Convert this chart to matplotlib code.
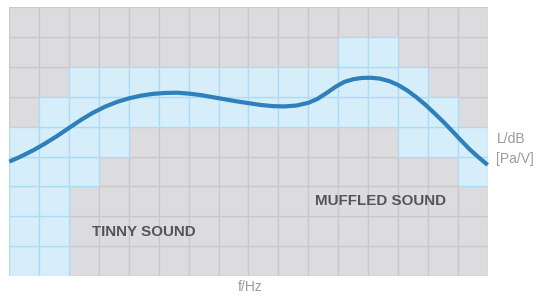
import numpy as np
import matplotlib.pyplot as plt
from matplotlib.patches import Rectangle

n_cols, n_rows = 16, 9

# highlighted band per column (row index counted from the bottom, inclusive)
band_low = [0, 0, 3, 4, 5, 5, 5, 5, 5, 5, 5, 5, 5, 4, 4, 3]
band_high = [4, 5, 6, 6, 6, 6, 6, 6, 6, 6, 6, 7, 7, 6, 5, 4]

# response curve (grid units)
curve_x = [0.0, 0.4, 0.8, 1.2, 1.6, 2.0, 2.4, 2.8, 3.2, 3.6, 4.0, 4.4, 4.8,
           5.2, 5.6, 6.0, 6.4, 6.8, 7.2, 7.6, 8.0, 8.4, 8.8, 9.2, 9.6, 10.0,
           10.3, 10.6, 10.9, 11.2, 11.5, 11.8, 12.1, 12.4, 12.7, 13.0, 13.3,
           13.6, 13.9, 14.2, 14.5, 14.8, 15.1, 15.4, 15.7, 16.0]
curve_y = [3.83, 4.01, 4.21, 4.44, 4.69, 4.96, 5.23, 5.47, 5.67, 5.83, 5.95,
           6.04, 6.10, 6.13, 6.14, 6.11, 6.06, 5.99, 5.92, 5.85, 5.79, 5.73,
           5.69, 5.68, 5.71, 5.80, 5.93, 6.12, 6.33, 6.50, 6.59, 6.635, 6.64,
           6.61, 6.53, 6.40, 6.22, 6.00, 5.75, 5.47, 5.18, 4.87, 4.55, 4.24,
           3.97, 3.72]

fig = plt.figure(figsize=(5.37, 2.96), dpi=100)
ax = fig.add_axes([9.3 / 537, 20 / 296, 478.4 / 537, 268.7 / 296])
ax.set_xlim(0, n_cols)
ax.set_ylim(0, n_rows)
ax.axis('off')

# gray cells first, blue on top so their borders win
for c in range(n_cols):
    for r in range(n_rows):
        if not (band_low[c] <= r <= band_high[c]):
            ax.add_patch(Rectangle((c, r), 1, 1, facecolor='#dcdcde',
                                   edgecolor='#c8c8ca', lw=0.9, zorder=1))
for c in range(n_cols):
    for r in range(band_low[c], band_high[c] + 1):
        ax.add_patch(Rectangle((c, r), 1, 1, facecolor='#d6edfa',
                               edgecolor='#acdcf5', lw=0.9, zorder=2))

ax.plot(curve_x, curve_y, color='#2e7fba', lw=3.0, solid_capstyle='butt',
        solid_joinstyle='round', zorder=3, clip_on=False)

bold = dict(family='Liberation Sans', fontweight='bold', fontsize=10.9,
            color='#555557', ha='center', va='center')
fig.text(144.2 / 537, 1 - 232 / 296, 'TINNY SOUND', **bold)
fig.text(380.8 / 537, 1 - 201 / 296, 'MUFFLED SOUND', **bold)

light = dict(family='Liberation Sans', fontsize=10, color='#9a9a9a',
             ha='center', va='center')
fig.text(511 / 537, 1 - 139 / 296, 'L/dB', **light)
fig.text(514.5 / 537, 1 - 158.5 / 296, '[Pa/V]', **light)
fig.text(250 / 537, 1 - 287 / 296, 'f/Hz', **light)

fig.savefig('out.png', dpi=100)
